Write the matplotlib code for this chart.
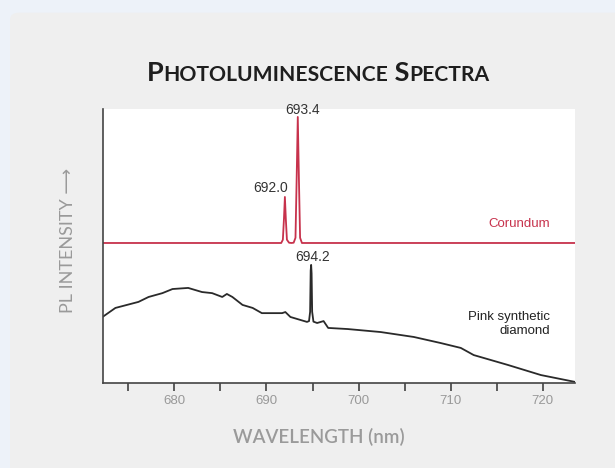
import matplotlib.pyplot as plt
from matplotlib.patches import FancyBboxPatch
from matplotlib.offsetbox import TextArea, HPacker, AnnotationBbox

# corundum spectrum (baseline + two sharp Cr3+ lines), intensity in arbitrary units
corundum_wl = [672.2, 691.6, 691.78, 691.9, 692.0, 692.1, 692.22, 692.45, 692.7,
               692.95, 693.15, 693.28, 693.4, 693.52, 693.65, 693.85, 723.5]
corundum_int = [51.1, 51.1, 52.3, 60.0, 67.9, 60.0, 52.3, 51.2, 51.1,
                51.2, 53.0, 75.0, 97.1, 75.0, 53.0, 51.1, 51.1]

# pink synthetic diamond spectrum
diamond_wl = [672.2, 673.6, 676.1, 677.2, 678.7, 679.8, 681.5, 682.3, 683.0, 684.1,
              685.2, 685.7, 686.3, 687.4, 688.5, 689.5, 691.7, 692.05, 692.6, 694.4,
              694.62, 694.74, 694.8, 694.85, 694.9, 694.96, 695.1, 695.5, 696.2, 696.7,
              698.8, 702.4, 706.0, 708.9, 711.1, 712.5, 716.2, 719.8, 723.5]
diamond_int = [24.1, 27.4, 29.6, 31.4, 32.8, 34.3, 34.7, 33.9, 33.2, 32.8,
               31.4, 32.5, 31.4, 28.5, 27.4, 25.5, 25.5, 25.9, 24.1, 22.3,
               22.6, 26.0, 41.0, 43.1, 40.0, 26.0, 22.4, 21.9, 22.6, 20.1,
               19.7, 18.6, 16.8, 14.6, 12.8, 10.2, 6.6, 2.9, 0.4]

major_ticks = [680, 690, 700, 710, 720]
minor_ticks = [675, 685, 695, 705, 715]

peak_labels = ["693.4", "692.0", "694.2"]
peak_label_pos = [(693.88, 99.6), (690.4, 71.2), (694.97, 46.0)]

red = "#c7324c"
grey = "#9a9a9a"

fig = plt.figure(figsize=(6.15, 4.68), dpi=100)
fig.patch.set_facecolor("#edf2f9")
panel = FancyBboxPatch((10 / 615, -0.05), 1.0, 0.973 + 0.05,
                       boxstyle="round,pad=0,rounding_size=0.015",
                       transform=fig.transFigure, facecolor="#efefef",
                       edgecolor="none", zorder=-10)
fig.patches.append(panel)

ax = fig.add_axes([0.1667, 0.1816, 0.7683, 0.5855])
ax.set_facecolor("white")

ax.plot(corundum_wl, corundum_int, color=red, lw=1.3, solid_joinstyle="round")
ax.plot(diamond_wl, diamond_int, color="#2a2a2a", lw=1.3, solid_joinstyle="round")

ax.set_xlim(672.2, 723.5)
ax.set_ylim(0, 100)
ax.set_yticks([])
ax.set_xticks(major_ticks)
ax.set_xticklabels([str(t) for t in major_ticks], fontfamily="Liberation Sans")
ax.set_xticks(minor_ticks, minor=True)
ax.tick_params(axis="x", which="both", direction="out", length=5.5, width=1.1,
               color="#333333", labelcolor="#999999", labelsize=9.5, pad=3)

for s in ["top", "right"]:
    ax.spines[s].set_visible(False)
for s in ["left", "bottom"]:
    ax.spines[s].set_color("#444444")
    ax.spines[s].set_linewidth(1.2)

for lab, (x, y) in zip(peak_labels, peak_label_pos):
    ax.text(x, y, lab, ha="center", va="center", fontsize=10,
            family="Liberation Sans", color="#333333", clip_on=False)

ax.text(720.8, 58.0, "Corundum", ha="right", va="center", fontsize=9.5,
        family="Liberation Sans", color=red)
ax.text(720.8, 21.5, "Pink synthetic\ndiamond", ha="right", va="center",
        fontsize=9.5, family="Liberation Sans", color="#222222",
        multialignment="right", linespacing=1.15)

# small-caps title
parts = [("P", 19.5), ("HOTOLUMINESCENCE", 15.2), (" S", 19.5), ("PECTRA", 15.2)]
boxes = [TextArea(t, textprops=dict(fontsize=s, fontweight="bold",
                                    family="Lato", color="#1e1e1e"))
         for t, s in parts]
title = HPacker(children=boxes, align="baseline", pad=0, sep=0)
ab = AnnotationBbox(title, (0.517, 0.845), xycoords="figure fraction",
                    frameon=False, box_alignment=(0.5, 0.5))
fig.add_artist(ab)

fig.text(0.11, 0.487, "PL INTENSITY \u27f6", rotation=90, ha="center",
         va="center", fontsize=13, color=grey, family=["Lato", "DejaVu Sans"])
fig.text(0.519, 0.066, "WAVELENGTH (nm)", ha="center", va="center",
         fontsize=13.5, color=grey, family="Lato", fontweight="semibold")

fig.savefig("out.png", dpi=100, facecolor=fig.get_facecolor())
